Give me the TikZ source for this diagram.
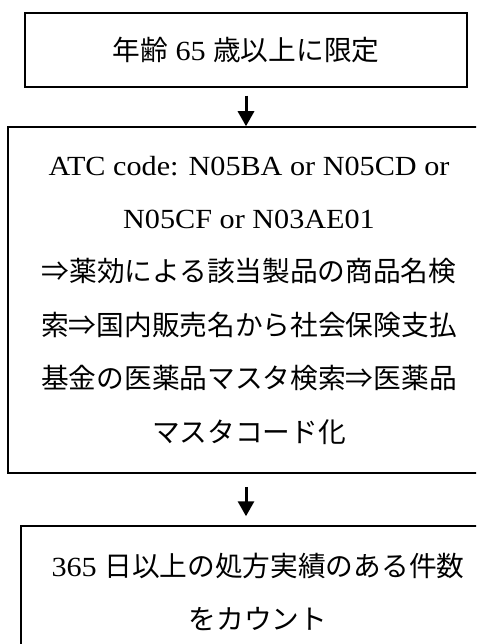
\documentclass[tikz,border=0pt]{standalone}
\usepackage{fontspec}
\setmainfont{Liberation Serif}[FakeStretch=1.09]
\newfontfamily\cjk{Noto Sans CJK JP}
\usetikzlibrary{arrows.meta}
\begin{document}
\begin{tikzpicture}[x=1pt,y=-1pt,
  box/.style={draw, line width=1.5pt, align=center, inner sep=0pt,
    font=\fontsize{27.7}{53.4}\selectfont},
  flow/.style={line width=3pt, -{Triangle[width=16pt,length=15pt]}}]
\useasboundingbox (0,0) rectangle (476,644);
\clip (0,0) rectangle (476,644);
\node[box, minimum width=442pt, minimum height=74pt] (b1) at (246,50)
  {{\cjk 年齢}~65~{\cjk 歳以上に限定}};
\node[box, minimum width=482pt, minimum height=346pt] (b2) at (249,300)
  {ATC code: N05BA or N05CD or\\
   N05CF or N03AE01\\
   {\cjk ⇒薬効による該当製品の商品名検}\\
   {\cjk 索⇒国内販売名から社会保険支払}\\
   {\cjk 基金の医薬品マスタ検索⇒医薬品}\\
   {\cjk マスタコード化}};
\node[box, minimum width=474pt, minimum height=132pt] (b3) at (258,592)
  {365~{\cjk 日以上の処方実績のある件数}\\
   {\cjk をカウント}};
\draw[flow, shorten <=8pt] (b1.south) -- (b1.south |- b2.north);
\draw[flow, shorten <=13pt, shorten >=9pt] (b2.south -| b1.south) -- (b1.south |- b3.north);
\end{tikzpicture}
\end{document}
